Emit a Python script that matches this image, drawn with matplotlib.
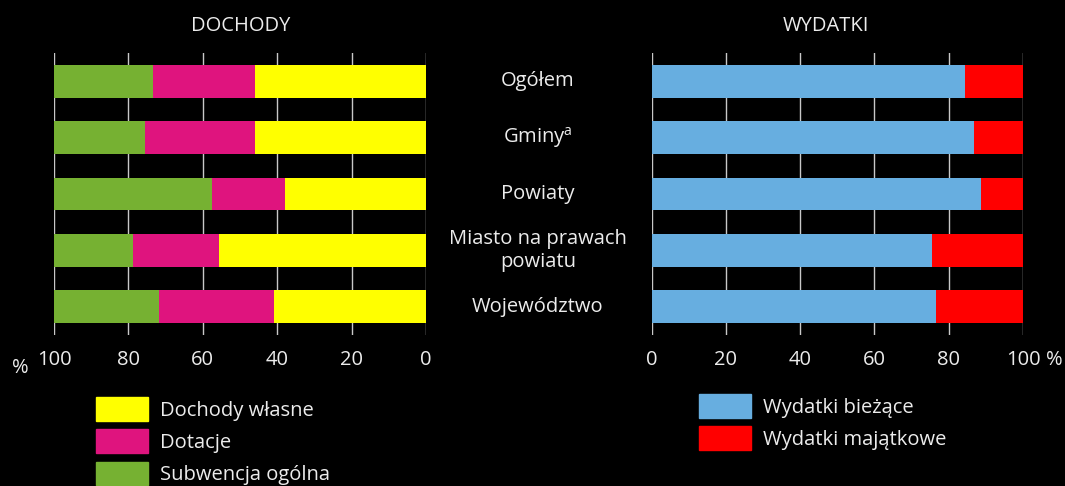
import matplotlib.pyplot as plt
from matplotlib.patches import Patch
from matplotlib.transforms import blended_transform_factory

plt.rcParams['font.family'] = ['Open Sans', 'DejaVu Sans']
plt.rcParams['mathtext.default'] = 'regular'

# data (percent shares)
categories = ['Ogółem', 'Gminy$^{a}$', 'Powiaty', 'Miasto na prawach\npowiatu', 'Województwo']
dochody_wlasne = [46.0, 46.0, 37.9, 55.7, 40.9]
dotacje = [27.4, 29.6, 19.6, 23.1, 30.9]
subwencja = [26.6, 24.4, 42.5, 21.2, 28.2]
wydatki_biezace = [84.3, 86.8, 88.7, 75.5, 76.6]
wydatki_majatkowe = [15.7, 13.2, 11.3, 24.5, 23.4]
ticks = [0, 20, 40, 60, 80, 100]

txt = '#ececec'
c_yellow = '#ffff00'
c_magenta = '#df147e'
c_green = '#76b132'
c_blue = '#67aee0'
c_red = '#ff0000'
fs = 14.5

fig = plt.figure(figsize=(10.65, 4.86), dpi=100, facecolor='black')
ax1 = fig.add_axes([54 / 1065, 151 / 486, 372 / 1065, 282 / 486])
ax2 = fig.add_axes([651.5 / 1065, 151 / 486, 371.5 / 1065, 282 / 486])

y = list(range(len(categories)))
h = 0.585

left2 = [a + b for a, b in zip(dochody_wlasne, dotacje)]
ax1.barh(y, dochody_wlasne, height=h, color=c_yellow, zorder=3)
ax1.barh(y, dotacje, left=dochody_wlasne, height=h, color=c_magenta, zorder=3)
ax1.barh(y, subwencja, left=left2, height=h, color=c_green, zorder=3)

ax2.barh(y, wydatki_biezace, height=h, color=c_blue, zorder=3)
ax2.barh(y, wydatki_majatkowe, left=wydatki_biezace, height=h, color=c_red, zorder=3)

for ax in (ax1, ax2):
    ax.set_facecolor('black')
    ax.set_ylim(4.5, -0.5)
    ax.set_yticks([])
    ax.set_xticks(ticks)
    ax.tick_params(axis='x', length=0, pad=11, labelsize=fs, colors=txt)
    ax.grid(axis='x', color='#c8c8c8', lw=1, zorder=0)
    for s in ax.spines.values():
        s.set_visible(False)
ax1.set_xlim(100, 0)
ax2.set_xlim(0, 100)

# category labels between panels
tr = blended_transform_factory(fig.transFigure, ax1.transData)
for i, c in enumerate(categories):
    fig.text(538 / 1065, i, c, transform=tr, ha='center', va='center',
             color=txt, fontsize=fs, linespacing=1.2)

fig.text(241 / 1065, 1 - 26 / 486, 'DOCHODY', ha='center', va='center', color=txt, fontsize=fs)
fig.text(826 / 1065, 1 - 26 / 486, 'WYDATKI', ha='center', va='center', color=txt, fontsize=fs)
fig.text(20 / 1065, 1 - 368 / 486, '%', ha='center', va='center', color=txt, fontsize=fs)
fig.text(1054 / 1065, 1 - 360 / 486, '%', ha='center', va='center', color=txt, fontsize=fs)

px = fs * 100 / 72
leg_kw = dict(frameon=False, fontsize=fs, labelcolor=txt, loc='upper left',
              borderpad=0, borderaxespad=0, handlelength=52 / px,
              handleheight=29 / px, handletextpad=12 / px, labelspacing=8.5 / px)
fig.legend(handles=[Patch(color=c_yellow, label='Dochody własne'),
                    Patch(color=c_magenta, label='Dotacje'),
                    Patch(color=c_green, label='Subwencja ogólna')],
           bbox_to_anchor=(96 / 1065, 1 - 397 / 486), **leg_kw)
fig.legend(handles=[Patch(color=c_blue, label='Wydatki bieżące'),
                    Patch(color=c_red, label='Wydatki majątkowe')],
           bbox_to_anchor=(699 / 1065, 1 - 394 / 486), **leg_kw)

fig.savefig('out.png', dpi=100, facecolor='black')
